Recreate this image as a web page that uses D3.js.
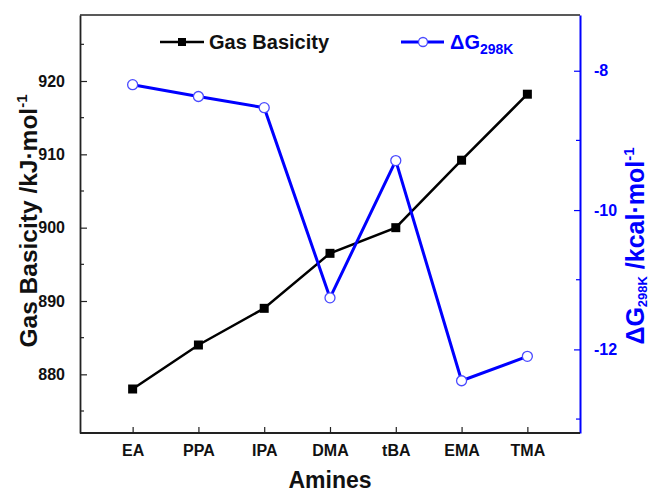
<!DOCTYPE html>
<html>
<head>
<meta charset="utf-8">
<script src="https://cdn.jsdelivr.net/npm/d3@7"></script>
<style>
    body { margin: 0; background: #fff; }
    svg text { font-family: "Liberation Sans", Arial, sans-serif; font-weight: bold; }
</style>
</head>
<body>
<svg id="chart" width="649" height="493"></svg>
<script>
// data
var amines = ["EA", "PPA", "IPA", "DMA", "tBA", "EMA", "TMA"];
var gas_basicity = [878.0, 884.0, 889.0, 896.5, 900.0, 909.2, 918.2];
var delta_g = [-8.20, -8.37, -8.53, -11.26, -9.29, -12.45, -12.10];
var left_ticks = [880, 890, 900, 910, 920];
var left_minor = [875, 885, 895, 905, 915, 925];
var right_ticks = [-12, -10, -8];
var right_minor = [-13, -11, -9];

var blue = "#0000ff";
var axis_col = "#222";

var svg = d3.select("#chart");
var p_left = 80, p_right = 580, p_top = 15, p_bottom = 433;

var x = d3.scalePoint().domain(amines).range([p_left, p_right]).padding(0.8);
var yl = d3.scaleLinear().domain([872, 929]).range([p_bottom, p_top]);
var yr = d3.scaleLinear().domain([-13.2, -7.2]).range([p_bottom, p_top]);

//
// frame: top border black, right axis blue
//
svg.append("line").attr("x1", p_left).attr("x2", p_right)
   .attr("y1", p_top).attr("y2", p_top)
   .attr("stroke", axis_col).attr("stroke-width", 1.5);

// left axis
var gl = svg.append("g").attr("transform", "translate(" + p_left + ",0)");
gl.call(d3.axisLeft(yl).tickValues(left_ticks).tickSizeInner(-7).tickSizeOuter(0)
        .tickPadding(15));
gl.append("g").selectAll("line").data(left_minor).enter().append("line")
  .attr("x1", 0).attr("x2", 4)
  .attr("y1", function(d) { return yl(d); }).attr("y2", function(d) { return yl(d); })
  .attr("stroke", axis_col).attr("stroke-width", 1.2);
gl.select(".domain").attr("stroke", axis_col).attr("stroke-width", 1.8);
gl.selectAll(".tick line").attr("stroke", axis_col).attr("stroke-width", 1.2);
gl.selectAll(".tick text").attr("font-size", 16).attr("fill", "#111")
  .attr("font-family", "Liberation Sans, Arial, sans-serif");

// right axis
var gr = svg.append("g").attr("transform", "translate(" + p_right + ",0)");
gr.call(d3.axisRight(yr).tickValues(right_ticks).tickSizeInner(-6).tickSizeOuter(0)
        .tickPadding(14).tickFormat(d3.format("d")));
gr.append("g").selectAll("line").data(right_minor).enter().append("line")
  .attr("x1", 0).attr("x2", -4)
  .attr("y1", function(d) { return yr(d); }).attr("y2", function(d) { return yr(d); })
  .attr("stroke", blue).attr("stroke-width", 1.2);
gr.select(".domain").attr("stroke", blue).attr("stroke-width", 2);
gr.selectAll(".tick line").attr("stroke", blue).attr("stroke-width", 1.2);
gr.selectAll(".tick text").attr("font-size", 16).attr("fill", blue)
  .attr("font-family", "Liberation Sans, Arial, sans-serif")
  .text(function(d) { return String(d); });

// bottom axis
var gb = svg.append("g").attr("transform", "translate(0," + p_bottom + ")");
gb.call(d3.axisBottom(x).tickSizeInner(-6).tickSizeOuter(0).tickPadding(12));
gb.select(".domain").attr("stroke", axis_col).attr("stroke-width", 1.8)
  .attr("d", "M" + p_left + ",0H" + p_right);
gb.selectAll(".tick line").attr("stroke", axis_col).attr("stroke-width", 1.2);
gb.selectAll(".tick text").attr("font-size", 16).attr("fill", "#111")
  .attr("font-family", "Liberation Sans, Arial, sans-serif");

//
// axis titles
//
svg.append("text").attr("x", 330).attr("y", 488).attr("text-anchor", "middle")
   .attr("font-size", 23).attr("fill", "#111").text("Amines");

var tl = svg.append("text")
   .attr("transform", "translate(37,221) rotate(-90)")
   .attr("text-anchor", "middle").attr("font-size", 24.5).attr("fill", "#111");
tl.append("tspan").text("Gas Basicity /kJ·mol");
tl.append("tspan").attr("font-size", 15).attr("dy", -10).text("-1");

var tr = svg.append("text")
   .attr("transform", "translate(644,246) rotate(-90)")
   .attr("text-anchor", "middle").attr("font-size", 25).attr("fill", blue);
tr.append("tspan").text("ΔG");
tr.append("tspan").attr("font-size", 13).attr("dy", 3).text("298K");
tr.append("tspan").attr("dy", -3).text(" /kcal·mol");
tr.append("tspan").attr("font-size", 15).attr("dy", -10).text("-1");

//
// series
//
var line_gb = d3.line()
    .x(function(d, i) { return x(amines[i]); })
    .y(function(d) { return yl(d); });
var line_dg = d3.line()
    .x(function(d, i) { return x(amines[i]); })
    .y(function(d) { return yr(d); });

svg.append("path").datum(gas_basicity).attr("d", line_gb)
   .attr("fill", "none").attr("stroke", "#000").attr("stroke-width", 2.5);
svg.append("g").selectAll("rect").data(gas_basicity).enter().append("rect")
   .attr("x", function(d, i) { return x(amines[i]) - 4.5; })
   .attr("y", function(d) { return yl(d) - 4.5; })
   .attr("width", 9).attr("height", 9).attr("fill", "#000");

svg.append("path").datum(delta_g).attr("d", line_dg)
   .attr("fill", "none").attr("stroke", blue).attr("stroke-width", 3);
svg.append("g").selectAll("circle").data(delta_g).enter().append("circle")
   .attr("cx", function(d, i) { return x(amines[i]); })
   .attr("cy", function(d) { return yr(d); })
   .attr("r", 5).attr("fill", "#fff").attr("stroke", "#4a4aff").attr("stroke-width", 1.3);

//
// legend
//
var lg = svg.append("g");
lg.append("line").attr("x1", 160).attr("x2", 204).attr("y1", 42).attr("y2", 42)
  .attr("stroke", "#000").attr("stroke-width", 2.5);
lg.append("rect").attr("x", 178).attr("y", 38).attr("width", 8).attr("height", 8).attr("fill", "#000");
lg.append("text").attr("x", 209).attr("y", 49).attr("font-size", 20).attr("fill", "#111")
  .text("Gas Basicity");

lg.append("line").attr("x1", 401).attr("x2", 444).attr("y1", 42).attr("y2", 42)
  .attr("stroke", blue).attr("stroke-width", 3);
lg.append("circle").attr("cx", 423).attr("cy", 42).attr("r", 4.5)
  .attr("fill", "#fff").attr("stroke", "#4a4aff").attr("stroke-width", 1.3);
var lt = lg.append("text").attr("x", 450).attr("y", 49).attr("font-size", 20).attr("fill", blue);
lt.append("tspan").text("ΔG");
lt.append("tspan").attr("font-size", 14).attr("dy", 5).text("298K");
</script>
</body>
</html>
